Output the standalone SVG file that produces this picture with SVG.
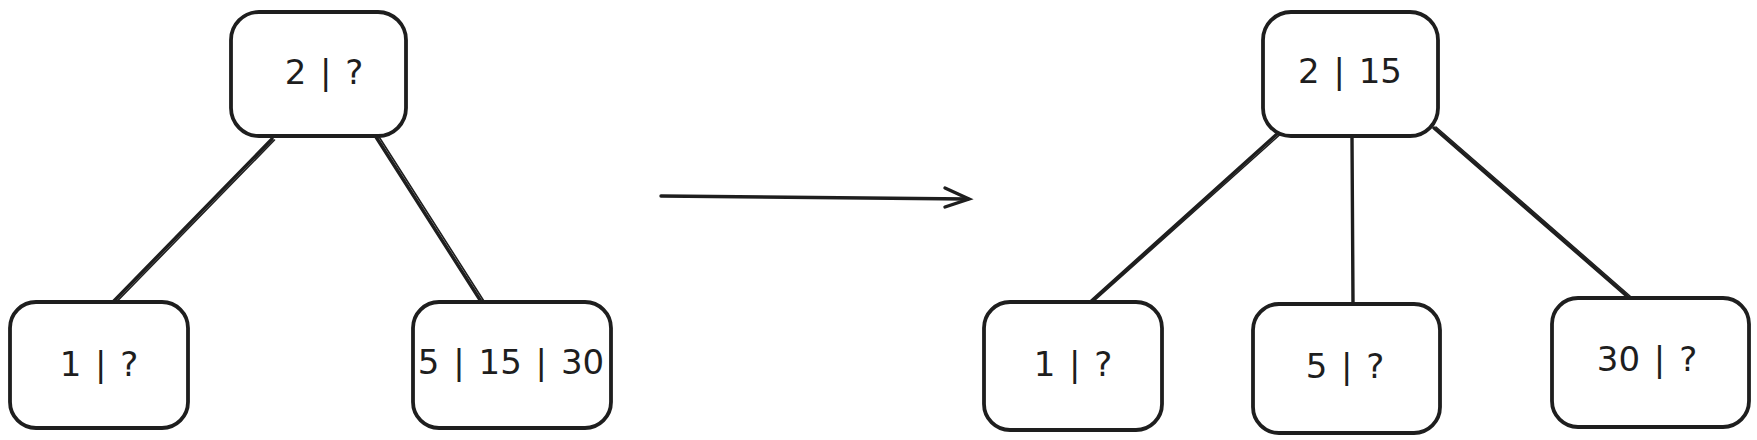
<svg xmlns="http://www.w3.org/2000/svg" width="1757" height="440" viewBox="0 0 1757 440">
<style>
.box{fill:#fff;stroke:#1e1e1e;stroke-width:3.8}
.edge{fill:none;stroke:#1e1e1e;stroke-width:3.4;stroke-linecap:round}
.thin{fill:none;stroke:#1e1e1e;stroke-width:1.6;stroke-linecap:round}
.lbl{font-family:"DejaVu Sans",sans-serif;font-size:34px;fill:#1e1e1e;text-anchor:middle;dominant-baseline:central;word-spacing:3px}
</style>
<rect width="1757" height="440" fill="#fff"/>
<g id="connectors">
  <path class="edge" d="M272 139 L112 303"/>
  <path class="thin" d="M274.5 140 L114.5 304"/>
  <path class="edge" d="M376 137 L482 303"/>
  <path class="thin" d="M378.5 136 L484.5 302"/>
  <path class="edge" d="M661 196 L968 199"/>
  <path class="edge" d="M945 188 L969 199 L945 207"/>
  <path class="edge" d="M1277 134 L1087 305"/>
  <path class="thin" d="M1279.5 135 L1089.5 305"/>
  <path class="edge" d="M1352 137 L1353 303"/>
  <path class="edge" d="M1434 128 L1628 297"/>
  <path class="thin" d="M1436 127 L1630 296"/>
</g>
<g id="n-top-left">
  <rect class="box" x="231" y="12" width="175" height="124" rx="28"/>
  <text class="lbl" x="324" y="72">2 | ?</text>
</g>
<g id="n-left-1">
  <rect class="box" x="10" y="302" width="178" height="126" rx="26"/>
  <text class="lbl" x="99" y="364">1 | ?</text>
</g>
<g id="n-left-2">
  <rect class="box" x="413" y="302" width="198" height="126" rx="26"/>
  <text class="lbl" x="511" y="362">5 | 15 | 30</text>
</g>
<g id="n-top-right">
  <rect class="box" x="1263" y="12" width="175" height="124" rx="28"/>
  <text class="lbl" x="1350" y="71">2 | 15</text>
</g>
<g id="n-right-1">
  <rect class="box" x="984" y="302" width="178" height="128" rx="26"/>
  <text class="lbl" x="1073" y="364">1 | ?</text>
</g>
<g id="n-right-2">
  <rect class="box" x="1253" y="304" width="187" height="129" rx="26"/>
  <text class="lbl" x="1345" y="366">5 | ?</text>
</g>
<g id="n-right-3">
  <rect class="box" x="1552" y="298" width="197" height="129" rx="26"/>
  <text class="lbl" x="1647" y="359">30 | ?</text>
</g>
</svg>
